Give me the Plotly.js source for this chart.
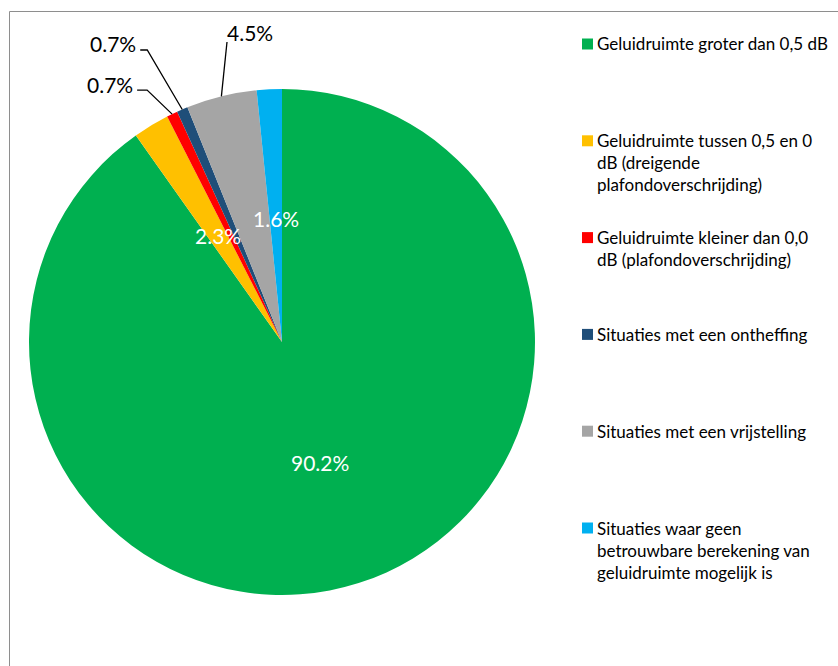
<!DOCTYPE html>
<html>
<head>
<meta charset="utf-8">
<script src="https://cdn.plot.ly/plotly-3.0.1.min.js"></script>
<style>html,body{margin:0;padding:0;background:#fff}#chart{width:838px;height:666px}</style>
</head>
<body>
<div id="chart"></div>
<script>
// ---- data ----
const categories = [
  "Geluidruimte groter dan 0,5 dB",
  "Geluidruimte tussen 0,5 en 0 dB (dreigende plafondoverschrijding)",
  "Geluidruimte kleiner dan 0,0 dB (plafondoverschrijding)",
  "Situaties met een ontheffing",
  "Situaties met een vrijstelling",
  "Situaties waar geen betrouwbare berekening van geluidruimte mogelijk is"
];
const legendLabels = [
  "Geluidruimte groter dan 0,5 dB",
  "Geluidruimte tussen 0,5 en 0<br>dB (dreigende<br>plafondoverschrijding)",
  "Geluidruimte kleiner dan 0,0<br>dB (plafondoverschrijding)",
  "Situaties met een ontheffing",
  "Situaties met een vrijstelling",
  "Situaties waar geen<br>betrouwbare berekening van<br>geluidruimte mogelijk is"
];
const values = [90.2, 2.3, 0.7, 0.7, 4.5, 1.6];
const colors = ["#00B050", "#FFC000", "#FF0000", "#1F4E79", "#A5A5A5", "#00B0F0"];

// ---- layout config ----
const W = 838, H = 666;
const dom = { x: [29 / W, 535 / W], y: [1 - 595 / H, 1 - 89 / H] };
const cx = (dom.x[0] + dom.x[1]) / 2 * W;
const cy = (1 - (dom.y[0] + dom.y[1]) / 2) * H;
const R = (dom.x[1] - dom.x[0]) * W / 2;
const labelMode = ["inside", "inside", "outside", "outside", "outside", "inside"];
const insideFrac = [0.5, 0.49, 0, 0, 0, 0.49];
// offsets (px) from slice edge point for outside labels
const outside = {
  2: { pts: [[-25, -24], [-35, -24]], tx: -37, ty: -30, xa: "right", ya: "middle" },
  3: { pts: [[-35, -59.5], [-42, -59.5]], tx: -44, ty: -66, xa: "right", ya: "middle" },
  4: { pts: [[5.6, -54.4]], tx: 4, ty: -64, xa: "left", ya: "middle" }
};
const pctFont = { family: "Lato, sans-serif", size: 21 };
const px = x => x / W, py = y => 1 - y / H;

const total = values.reduce((a, b) => a + b, 0);
let cum = 0;
const annotations = [], shapes = [];
values.forEach((v, i) => {
  const mid = (cum + v / 2) / total * 2 * Math.PI;
  cum += v;
  const txt = v.toFixed(1) + "%";
  if (labelMode[i] === "inside") {
    const r = insideFrac[i] * R;
    annotations.push({
      xref: "paper", yref: "paper", x: px(cx + r * Math.sin(mid)), y: py(cy - r * Math.cos(mid)),
      text: txt, showarrow: false, xanchor: "center", yanchor: "middle",
      font: Object.assign({ color: "#FFFFFF" }, pctFont)
    });
  } else {
    const ex = cx + R * Math.sin(mid), ey = cy - R * Math.cos(mid);
    const o = outside[i];
    let path = "M" + px(ex) + "," + py(ey);
    o.pts.forEach(p => { path += " L" + px(ex + p[0]) + "," + py(ey + p[1]); });
    shapes.push({ type: "path", xref: "paper", yref: "paper", path: path, line: { color: "#000000", width: 1.3 } });
    annotations.push({
      xref: "paper", yref: "paper", x: px(ex + o.tx), y: py(ey + o.ty),
      text: txt, showarrow: false, xanchor: o.xa, yanchor: o.ya,
      font: Object.assign({ color: "#000000" }, pctFont)
    });
  }
});

// manual legend laid out like the original (equal slots, text top aligned)
legendLabels.forEach((lab, i) => {
  const yc = 44 + i * 96.8;
  shapes.push({ type: "rect", xref: "paper", yref: "paper",
    x0: px(582), x1: px(593), y0: py(yc - 5.5), y1: py(yc + 5.5),
    fillcolor: colors[i], line: { width: 0 } });
  annotations.push({
    xref: "paper", yref: "paper", x: px(596), y: py(yc - 11.5),
    text: lab, showarrow: false, xanchor: "left", yanchor: "top", align: "left",
    borderpad: 0,
    font: { family: "Lato, sans-serif", size: 17, color: "#000000" }
  });
});

// chart area border
shapes.push({ type: "rect", xref: "paper", yref: "paper",
  x0: px(9.5), x1: 1.2, y0: -0.2, y1: py(11.5), line: { color: "#8E8E8E", width: 1 }, fillcolor: "rgba(0,0,0,0)" });

const trace = {
  type: "pie",
  labels: categories,
  values: values,
  marker: { colors: colors, line: { width: 0 } },
  sort: false,
  direction: "clockwise",
  rotation: 0,
  textinfo: "none",
  hoverinfo: "label+percent",
  domain: dom,
  showlegend: false
};

Plotly.newPlot("chart", [trace], {
  width: W, height: H,
  margin: { l: 0, r: 0, t: 0, b: 0 },
  paper_bgcolor: "#FFFFFF",
  showlegend: false,
  annotations: annotations,
  shapes: shapes
}, { displayModeBar: false, staticPlot: true });
</script>
</body>
</html>
